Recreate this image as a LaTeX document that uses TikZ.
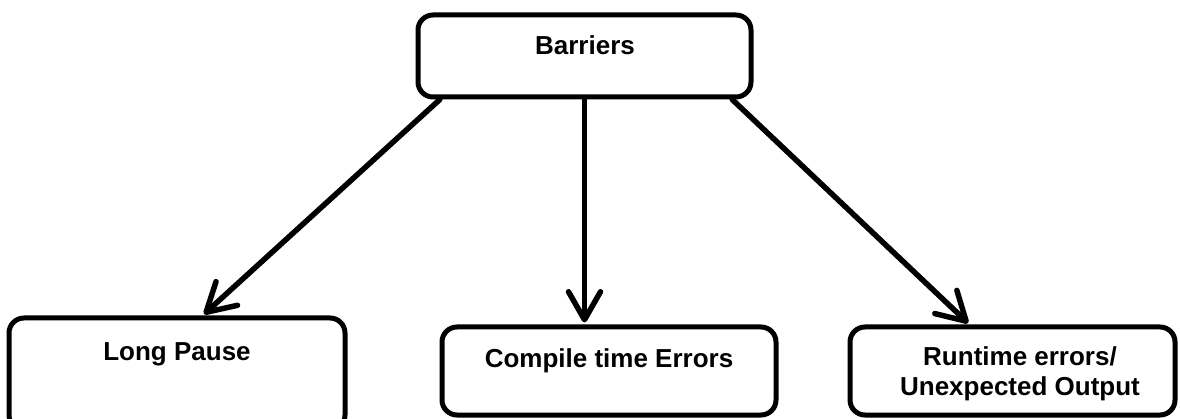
\documentclass[tikz,border=0pt]{standalone}
\usepackage{fontspec}
\setmainfont{Liberation Sans}
\usetikzlibrary{arrows.meta,calc}
\begin{document}
\begin{tikzpicture}[x=1pt,y=-1pt,
  box/.style={draw=black,line width=5pt,rounded corners=15pt,fill=white,inner sep=0pt},
  lbl/.style={font=\fontsize{26}{30}\selectfont\bfseries,inner sep=0pt,align=center},
  conn/.style={line width=5.5pt,line cap=round,-{Straight Barb[length=28pt,width=32pt,round]},shorten >=2pt}]
\useasboundingbox (0,0) rectangle (1180,419);
\clip (0,0) rectangle (1180,419);
% boxes
\node[box,minimum width=333pt,minimum height=82pt] (top) at (584.5,56) {};
\node[box,minimum width=336pt,minimum height=112pt] (lp) at (177,374) {};
\node[box,minimum width=334pt,minimum height=88pt] (cte) at (609,371) {};
\node[box,minimum width=325pt,minimum height=88pt] (rt) at (1012.5,371) {};
% labels
\node[lbl,anchor=base] (toptxt) at (585,55) {Barriers};
\node[lbl,anchor=base] (lptxt) at (177,360) {Long Pause};
\node[lbl,anchor=base] (ctetxt) at (609,367) {Compile time Errors};
\node[lbl] (rttxt) at (1020,374) {Runtime errors/\\Unexpected Output};
% connectors
\coordinate (s1) at ($(top.south west)!0.072!(top.south east)$);
\coordinate (e1) at ($(lp.north west)!0.575!(lp.north east)$);
\coordinate (s3) at ($(top.south west)!0.937!(top.south east)$);
\coordinate (e3) at ($(rt.north west)!0.37!(rt.north east)$);
\draw[conn] (s1) -- (e1);
\draw[conn] (top.south) -- (top.south |- cte.north);
\draw[conn] (s3) -- (e3);
\end{tikzpicture}
\end{document}
